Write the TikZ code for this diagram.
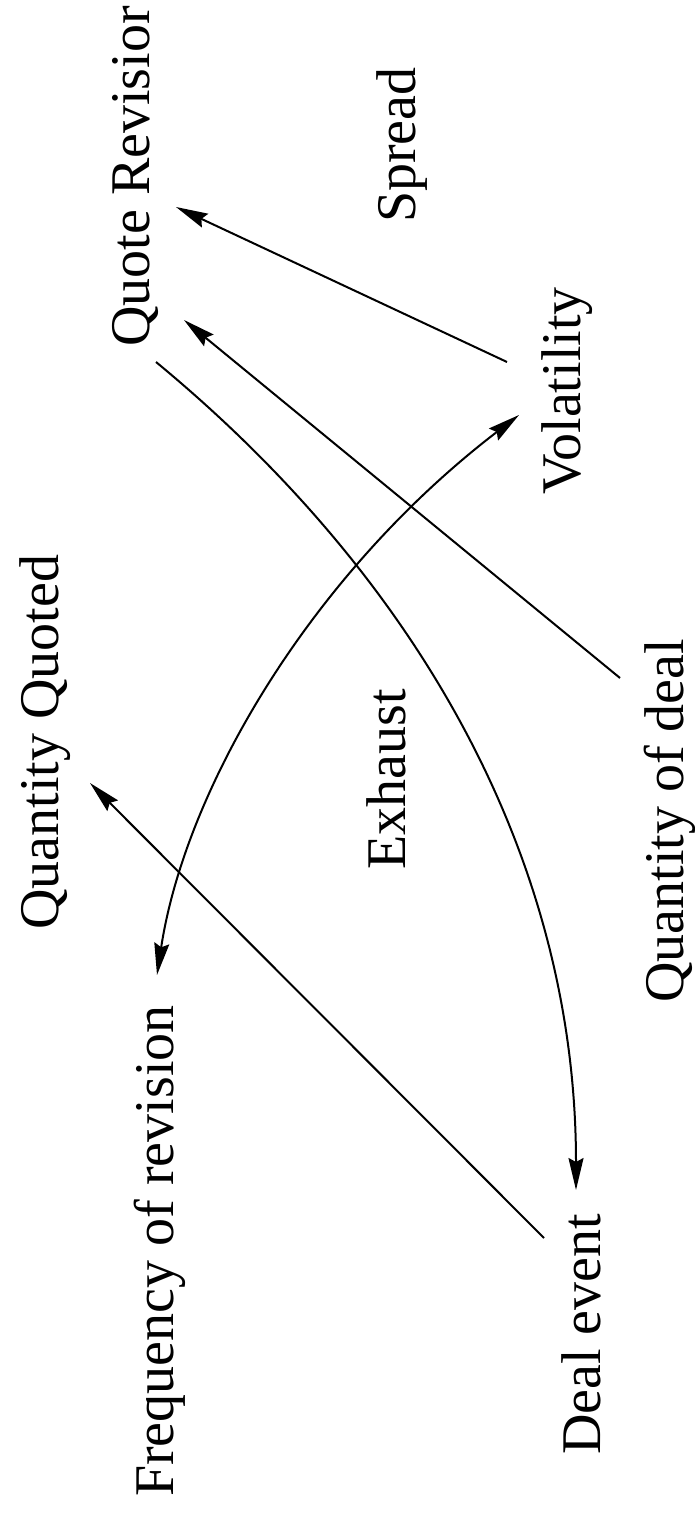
\documentclass[tikz,border=0pt]{standalone}
\usepackage{fontspec}
\setmainfont{Liberation Serif}
\usetikzlibrary{arrows.meta}
\begin{document}
\begin{tikzpicture}[x=1pt,y=-1pt,
  lbl/.style={rotate=90, anchor=base west, inner sep=0pt, font=\fontsize{56}{64}\selectfont},
  con/.style={line width=2pt},
  tipend/.style={-{Stealth[length=32pt,width=15pt,inset=4pt]}},
  tipboth/.style={{Stealth[length=32pt,width=15pt,inset=4pt]}-{Stealth[length=32pt,width=15pt,inset=4pt]}}]
\useasboundingbox[fill=white] (0,0) rectangle (695,1514);
% labels
\node[lbl] (QR) at (149,347) {Quote Revisior};
\node[lbl] (SP) at (415,223) {Spread};
\node[lbl] (VO) at (580,495) {Volatility};
\node[lbl] (QQ) at (58,930) {Quantity Quoted};
\node[lbl] (EX) at (405,870) {Exhaust};
\node[lbl] (QD) at (683,1003) {Quantity of deal};
\node[lbl] (FR) at (173,1497) {Frequency of revision};
\node[lbl] (DE) at (600,1455) {Deal event};
% connector end points
\coordinate (qrA) at (176,207);
\coordinate (qrB) at (184,320);
\coordinate (qrC) at (156,362);
\coordinate (voA) at (507,362);
\coordinate (voB) at (519,415);
\coordinate (qdA) at (620,678);
\coordinate (qqA) at (90,783);
\coordinate (frA) at (157,975);
\coordinate (deA) at (576,1190);
\coordinate (deB) at (544,1238);
% connectors
\draw[con,tipend] (voA) -- (qrA);
\draw[con,tipend] (qdA) -- (qrB);
\draw[con,tipend] (deB) -- (qqA);
\draw[con,tipend] (qrC) .. controls (420,580) and (576,860) .. (deA);
\draw[con,tipboth] (frA) .. controls (185,790) and (310,575) .. (voB);
\end{tikzpicture}
\end{document}
